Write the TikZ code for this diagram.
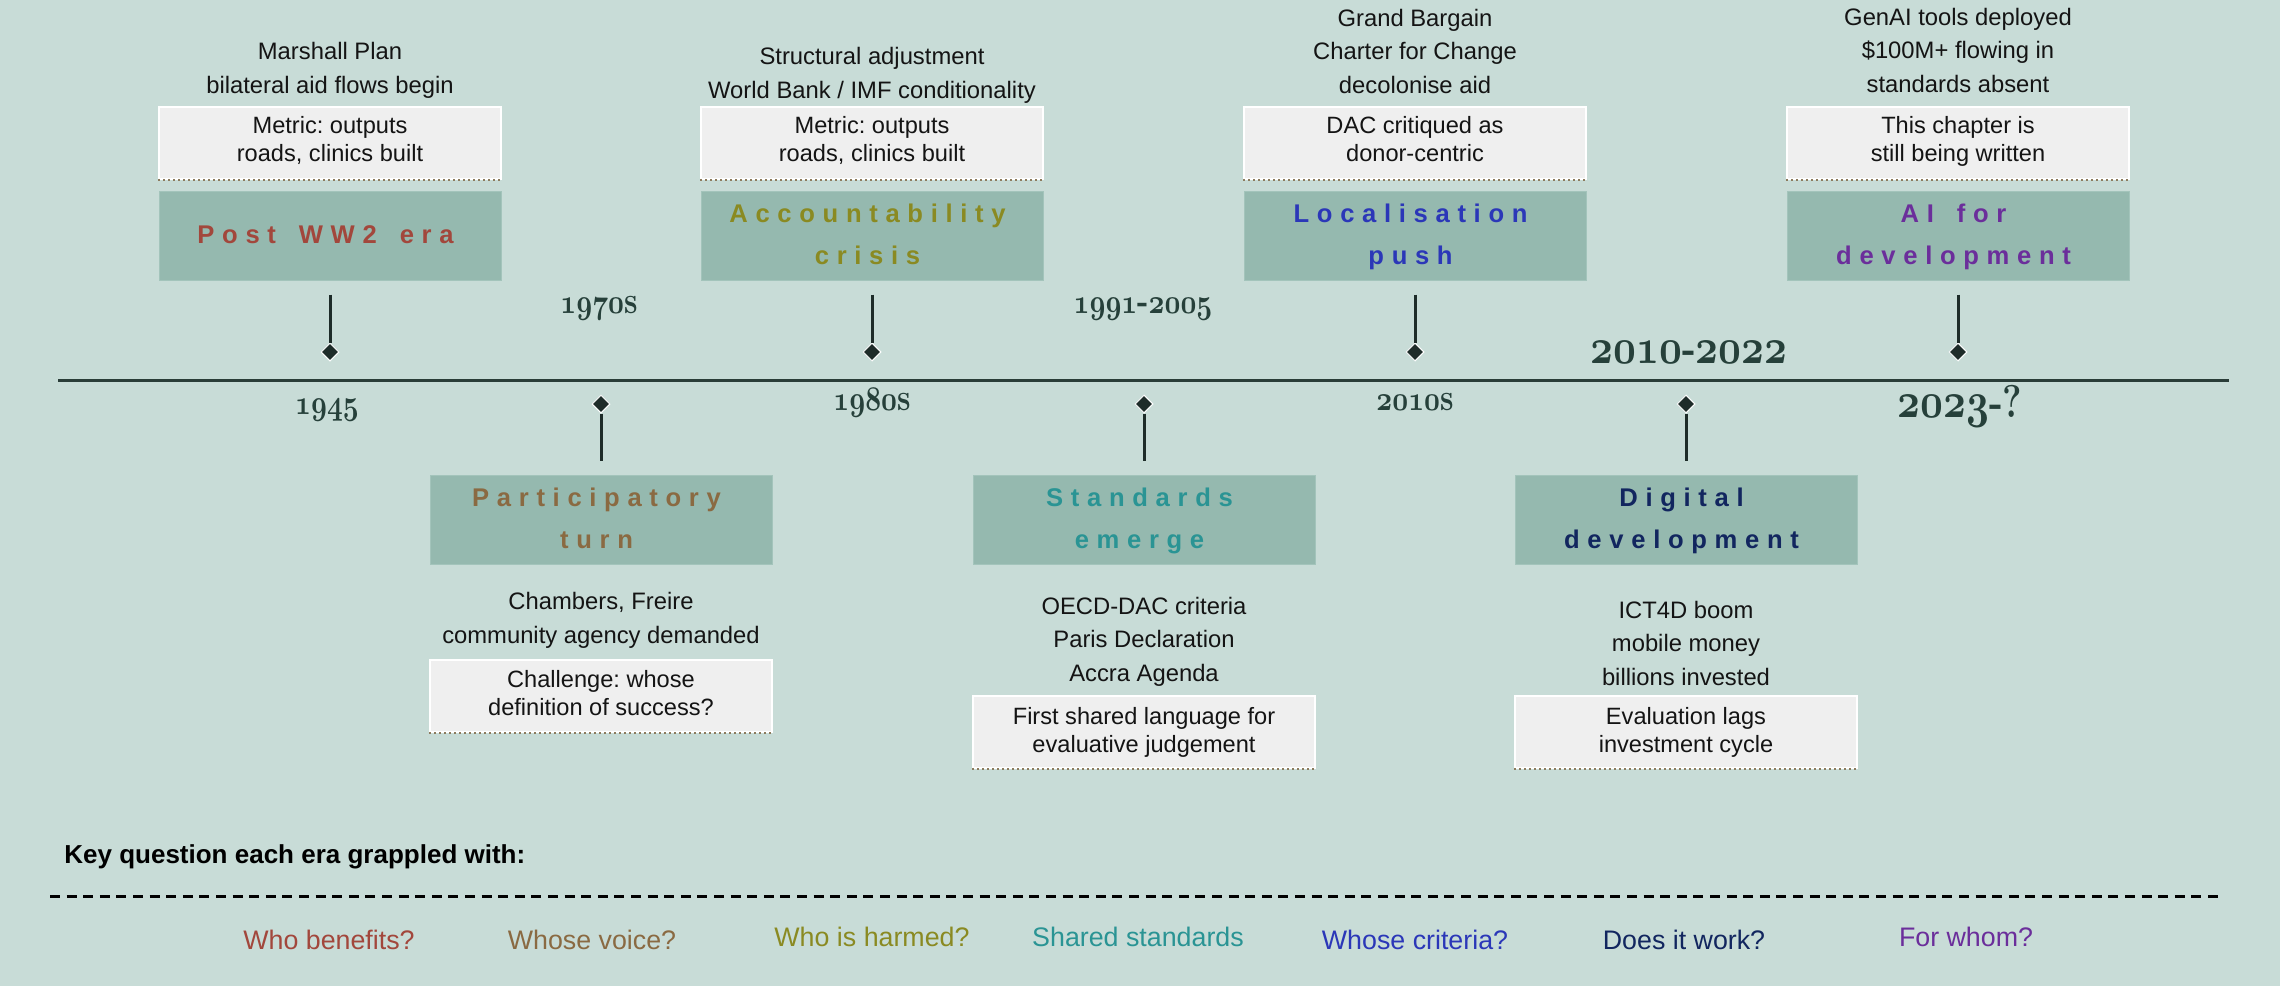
\documentclass[tikz,border=0pt]{standalone}
\usepackage{fontspec}
\newfontfamily\sans{Liberation Sans}
\newfontfamily\ttlfam{Liberation Sans}[LetterSpace=30,WordSpace=1.55]
\usetikzlibrary{shapes.geometric}
\frenchspacing
\definecolor{bgc}{HTML}{C8DCD7}
\definecolor{boxc}{HTML}{95B9AF}
\definecolor{boxedge}{HTML}{A3C4BB}
\definecolor{notec}{HTML}{EFEFEF}
\definecolor{datec}{HTML}{26403A}
\definecolor{stemc}{HTML}{1E2C29}
\definecolor{tlc}{HTML}{2A3D38}
\definecolor{dotc}{HTML}{8C7B5E}
\definecolor{cA}{HTML}{A2473C}
\definecolor{cB}{HTML}{8A6A42}
\definecolor{cC}{HTML}{8A8A22}
\definecolor{cD}{HTML}{2A9494}
\definecolor{cE}{HTML}{2B37B8}
\definecolor{cF}{HTML}{12265F}
\definecolor{cG}{HTML}{6B2E9B}
\newcommand\osd[1]{{\usefont{OML}{cmm}{b}{it}#1}}
\newcommand\dts[1]{\scalebox{0.8}[1]{\fontsize{19}{19}\selectfont\bfseries #1}}
\newcommand\dtb[1]{\scalebox{0.8}[1]{\fontsize{23}{23}\selectfont\bfseries #1}}
\newcommand\ttlfont{\ttlfam\bfseries\fontsize{12.8}{21}\selectfont}
\newcommand\tk{\kern0.35em}
\tikzset{
  titlebox/.style={rectangle, fill=boxc, draw=boxedge, line width=0.5pt, minimum width=171pt, minimum height=44.5pt, inner sep=0pt},
  notebox/.style={rectangle, fill=notec, draw=white, line width=1pt, minimum width=171pt, minimum height=36pt, inner sep=0pt},
  dotrule/.style={draw=dotc, line width=1pt, dash pattern=on 0.8pt off 1.7pt},
  ttltext/.style={font=\ttlfont, align=center, inner sep=0pt, anchor=base},
  notetext/.style={font=\sans\fontsize{11.8}{14}\selectfont, align=center, inner sep=0pt, anchor=base, text=black!92},
  desc/.style={font=\sans\fontsize{11.9}{16.75}\selectfont, align=center, inner sep=0pt, anchor=base, text=black!92},
  dia/.style={diamond, fill=stemc, draw=white, line width=0.5pt, minimum width=9pt, minimum height=9pt, inner sep=0pt},
  stem/.style={draw=stemc, line width=1.5pt},
  tline/.style={draw=tlc, line width=1.5pt},
  datelab/.style={text=datec, inner sep=0pt, anchor=base},
  question/.style={font=\sans\fontsize{13.4}{13.4}\selectfont, inner sep=0pt, anchor=base},
  dashline/.style={draw=black, line width=1.5pt, dash pattern=on 5pt off 3.3pt}
}
\begin{document}
\begin{tikzpicture}[x=0.5pt,y=-0.5pt]
\useasboundingbox (0,0) rectangle (2280,986);
\fill[bgc] (0,0) rectangle (2280,986);

% timeline
\coordinate (tlL) at (58,380);
\coordinate (tlR) at (2229,380);
\draw[tline] (tlL) -- (tlR);

% ---------- Event 1: Post WW2 era (above)
\node[titlebox] (t1) at (330,235.5) {};
\node[ttltext, text=cA] (t1txt) at ([yshift=-3.75pt]t1.center) {Post WW2 era\tk};
\node[notebox] (n1) at (330,143) {};
\draw[dotrule] (n1.south west) -- (n1.south east);
\node[notetext] (n1txt) at ([yshift=-9pt]n1.center) {Metric: outputs\\roads, clinics built};
\node[desc] (e1) at (330,93) {Marshall Plan\\bilateral aid flows begin};
\node[dia] (d1) at (330,352) {};
\draw[stem] ([yshift=-7pt]t1.south) -- (d1);
\node[datelab] (y1) at (327,414) {\dts{\osd{1945}}};

% ---------- Event 2: Participatory turn (below)
\node[titlebox] (t2) at (601,519.5) {};
\node[ttltext, text=cB] (t2txt) at ([yshift=-14.5pt]t2.center) {Participatory\tk\\turn\tk};
\node[desc] (e2) at (601,643) {Chambers, Freire\\community agency demanded};
\node[notebox] (n2) at (601,696) {};
\draw[dotrule] (n2.south west) -- (n2.south east);
\node[notetext] (n2txt) at ([yshift=-9.5pt]n2.center) {Challenge: whose\\definition of success?};
\node[dia] (d2) at (601,404) {};
\draw[stem] (d2) -- ([yshift=7pt]t2.north);
\node[datelab] (y2) at (599,313) {\dts{\osd{1970}s}};

% ---------- Event 3: Accountability crisis (above)
\node[titlebox] (t3) at (872,235.5) {};
\node[ttltext, text=cC] (t3txt) at ([yshift=-14.5pt]t3.center) {Accountability\tk\\crisis\tk};
\node[notebox] (n3) at (872,143) {};
\draw[dotrule] (n3.south west) -- (n3.south east);
\node[notetext] (n3txt) at ([yshift=-9pt]n3.center) {Metric: outputs\\roads, clinics built};
\node[desc] (e3) at (872,98) {Structural adjustment\\World Bank / IMF conditionality};
\node[dia] (d3) at (872,352) {};
\draw[stem] ([yshift=-7pt]t3.south) -- (d3);
\node[datelab] (y3) at (872,410) {\dts{\osd{1980}s}};

% ---------- Event 4: Standards emerge (below)
\node[titlebox] (t4) at (1144,519.5) {};
\node[ttltext, text=cD] (t4txt) at ([yshift=-14.5pt]t4.center) {Standards\tk\\emerge\tk};
\node[desc] (e4) at (1144,681) {OECD-DAC criteria\\Paris Declaration\\Accra Agenda};
\node[notebox] (n4) at (1144,732) {};
\draw[dotrule] (n4.south west) -- (n4.south east);
\node[notetext] (n4txt) at ([yshift=-10pt]n4.center) {First shared language for\\evaluative judgement};
\node[dia] (d4) at (1144,404) {};
\draw[stem] (d4) -- ([yshift=7pt]t4.north);
\node[datelab] (y4) at (1143,313) {\dts{\osd{1991}-\osd{2005}}};

% ---------- Event 5: Localisation push (above)
\node[titlebox] (t5) at (1415,235.5) {};
\node[ttltext, text=cE] (t5txt) at ([yshift=-14.5pt]t5.center) {Localisation\tk\\push\tk};
\node[notebox] (n5) at (1415,143) {};
\draw[dotrule] (n5.south west) -- (n5.south east);
\node[notetext] (n5txt) at ([yshift=-9pt]n5.center) {DAC critiqued as\\donor-centric};
\node[desc] (e5) at (1415,93) {Grand Bargain\\Charter for Change\\decolonise aid};
\node[dia] (d5) at (1415,352) {};
\draw[stem] ([yshift=-7pt]t5.south) -- (d5);
\node[datelab] (y5) at (1415,410) {\dts{\osd{2010}s}};

% ---------- Event 6: Digital development (below)
\node[titlebox] (t6) at (1686,519.5) {};
\node[ttltext, text=cF] (t6txt) at ([yshift=-14.5pt]t6.center) {Digital\tk\\development\tk};
\node[desc] (e6) at (1686,685) {ICT4D boom\\mobile money\\billions invested};
\node[notebox] (n6) at (1686,732) {};
\draw[dotrule] (n6.south west) -- (n6.south east);
\node[notetext] (n6txt) at ([yshift=-10pt]n6.center) {Evaluation lags\\investment cycle};
\node[dia] (d6) at (1686,404) {};
\draw[stem] (d6) -- ([yshift=7pt]t6.north);
\node[datelab] (y6) at (1689,363) {\dtb{\osd{2010}-\osd{2022}}};

% ---------- Event 7: AI for development (above)
\node[titlebox] (t7) at (1958,235.5) {};
\node[ttltext, text=cG] (t7txt) at ([yshift=-14.5pt]t7.center) {AI for\tk\\development\tk};
\node[notebox] (n7) at (1958,143) {};
\draw[dotrule] (n7.south west) -- (n7.south east);
\node[notetext] (n7txt) at ([yshift=-9pt]n7.center) {This chapter is\\still being written};
\node[desc] (e7) at (1958,92) {GenAI tools deployed\\\$100M+ flowing in\\standards absent};
\node[dia] (d7) at (1958,352) {};
\draw[stem] ([yshift=-7pt]t7.south) -- (d7);
\node[datelab] (y7) at (1960,417) {\dtb{\osd{2023}-?}};

% ---------- Key questions
\node[font=\sans\bfseries\fontsize{13}{13}\selectfont, inner sep=0pt, anchor=base west] (key) at (64,863) {Key question each era grappled with:};
\coordinate (dsL) at (50,896);
\coordinate (dsR) at (2221,896);
\draw[dashline] (dsL) -- (dsR);
\node[question, text=cA] (q1) at (329,949) {Who benefits?};
\node[question, text=cB] (q2) at (592,949) {Whose voice?};
\node[question, text=cC] (q3) at (872,946) {Who is harmed?};
\node[question, text=cD] (q4) at (1138,946) {Shared standards};
\node[question, text=cE] (q5) at (1415,949) {Whose criteria?};
\node[question, text=cF] (q6) at (1684,949) {Does it work?};
\node[question, text=cG] (q7) at (1966,946) {For whom?};
\end{tikzpicture}
\end{document}
